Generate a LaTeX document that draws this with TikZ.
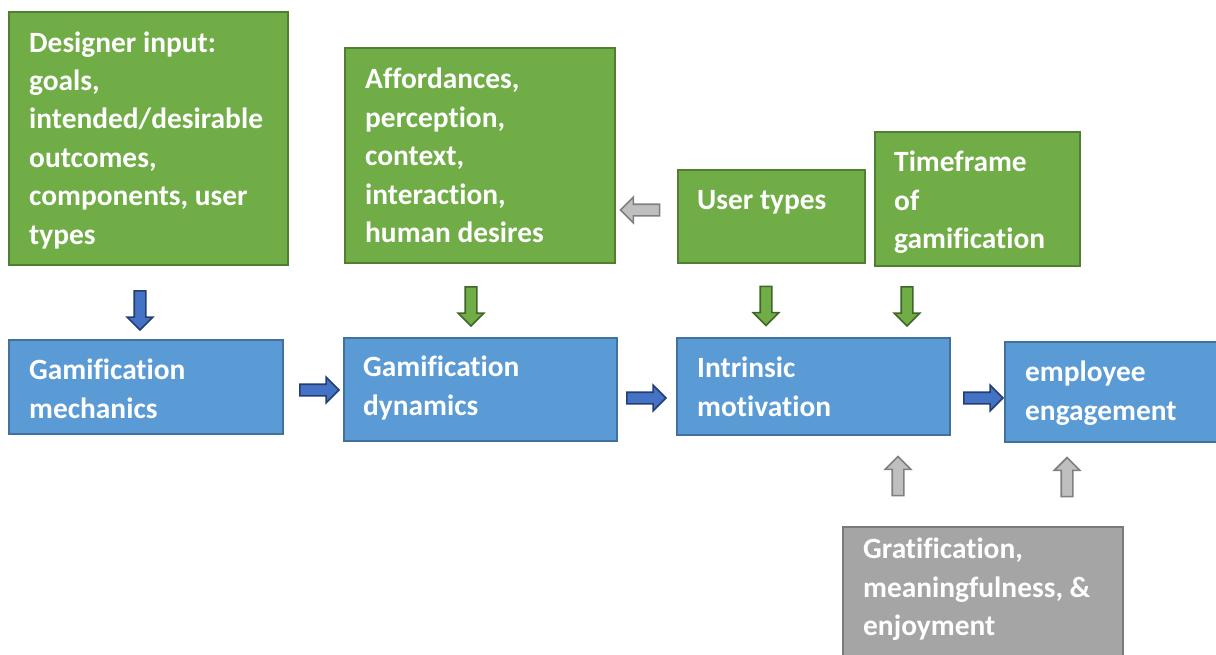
\documentclass[tikz,border=0pt]{standalone}
\usepackage{fontspec}
\setmainfont{Carlito}[Ligatures=NoCommon]
\usetikzlibrary{shapes.arrows}

\definecolor{greenfill}{HTML}{70AD47}
\definecolor{greenline}{HTML}{507E32}
\definecolor{bluefill}{HTML}{5B9BD5}
\definecolor{blueline}{HTML}{41719C}
\definecolor{greyfill}{HTML}{A5A5A5}
\definecolor{greyline}{HTML}{7A7A7A}
\definecolor{arrowblue}{HTML}{4472C4}
\definecolor{arrowblueline}{HTML}{233E73}
\definecolor{arrowgreen}{HTML}{70AD47}
\definecolor{arrowgreenline}{HTML}{3F6628}
\definecolor{arrowgrey}{HTML}{BFBFBF}
\definecolor{arrowgreyline}{HTML}{7F7F7F}

\begin{document}
\begin{tikzpicture}[x=1pt,y=-1pt,
  box/.style={rectangle, line width=2.2pt, anchor=north west, inner sep=0pt},
  greenbox/.style={box, fill=greenfill, draw=greenline},
  bluebox/.style={box, fill=bluefill, draw=blueline},
  greybox/.style={box, fill=greyfill, draw=greyline},
  % text nodes are placed by the baseline of their last line
  boxtext/.style={anchor=base west, align=left, text=white, inner sep=0pt,
    font=\fontsize{29.4}{38.4}\selectfont\bfseries},
  blockarrow/.style={single arrow, single arrow head extend=7pt,
    text height=5pt, text depth=5pt, text width=0pt,
    minimum width=24pt, minimum height=39pt, inner sep=0pt, line width=1.6pt},
  bluearrow/.style={blockarrow, fill=arrowblue, draw=arrowblueline},
  greenarrow/.style={blockarrow, fill=arrowgreen, draw=arrowgreenline},
  greyarrow/.style={blockarrow, fill=arrowgrey, draw=arrowgreyline},
]
\useasboundingbox (0,0) rectangle (1216,654);
\clip (0,0) rectangle (1216,654);

% top row: inputs
\node[greenbox, minimum width=279pt, minimum height=253pt] (designer) at (8,11) {};
\node[boxtext] (designer-text) at (29,244)
  {Designer input:\\goals,\\intended/desirable\\outcomes,\\components, user\\types};

\node[greenbox, minimum width=270pt, minimum height=215pt] (affordances) at (344,47) {};
\node[boxtext] (affordances-text) at (365,242.5)
  {Affordances,\\perception,\\context,\\interaction,\\human desires};

\node[greenbox, minimum width=187pt, minimum height=93pt] (usertypes) at (677,169) {};
\node[boxtext] (usertypes-text) at (697,209) {User types};

\node[greenbox, minimum width=205pt, minimum height=134pt] (timeframe) at (874,131) {};
\node[boxtext] (timeframe-text) at (894,248.5) {Timeframe\\of\\gamification};

% middle row: chain
\node[bluebox, minimum width=274pt, minimum height=94pt] (mechanics) at (8,339) {};
\node[boxtext] (mechanics-text) at (29,418) {Gamification\\mechanics};

\node[bluebox, minimum width=273pt, minimum height=103pt] (dynamics) at (343,337) {};
\node[boxtext] (dynamics-text) at (363,415) {Gamification\\dynamics};

\node[bluebox, minimum width=273pt, minimum height=97pt] (intrinsic) at (676,337) {};
\node[boxtext] (intrinsic-text) at (697,416) {Intrinsic\\motivation};

\node[bluebox, minimum width=216pt, minimum height=100pt] (engagement) at (1004,341) {};
\node[boxtext] (engagement-text) at (1025,420) {employee\\engagement};

% bottom: moderators
\node[greybox, minimum width=280pt, minimum height=140pt] (gratification) at (842,526) {};
\node[boxtext] (gratification-text) at (863,635.5)
  {Gratification,\\meaningfulness, \&\\enjoyment};

% block arrows
\node[bluearrow, rotate=-90] (a-designer) at (140,307.5) {};
\node[bluearrow] (a-mechanics) at (316.5,390) {};
\node[bluearrow] (a-dynamics) at (643.5,398) {};
\node[bluearrow] (a-intrinsic) at (980.5,398) {};

\node[greenarrow, rotate=-90] (a-affordances) at (471,303.5) {};
\node[greenarrow, rotate=-90] (a-usertypes) at (766,303) {};
\node[greenarrow, rotate=-90] (a-timeframe) at (907,303.5) {};

\node[greyarrow, rotate=180] (a-usertypes-left) at (643,210) {};
\node[greyarrow, rotate=90] (a-grat-intrinsic) at (898,479) {};
\node[greyarrow, rotate=90] (a-grat-engagement) at (1067,480) {};
\end{tikzpicture}
\end{document}
